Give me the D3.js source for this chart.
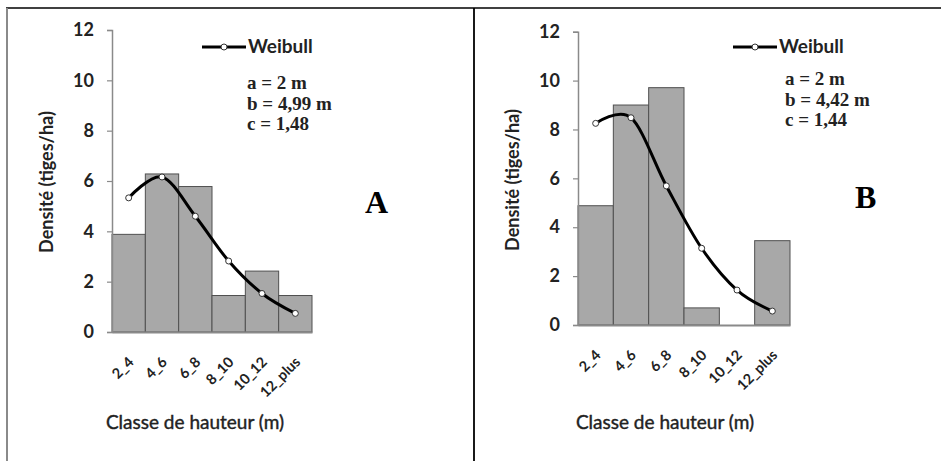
<!DOCTYPE html>
<html>
<head>
<meta charset="utf-8">
<script src="https://cdn.jsdelivr.net/npm/d3@7/dist/d3.min.js"></script>
<style>
  html, body { margin: 0; padding: 0; background: #fff; }
  svg { display: block; }
</style>
</head>
<body>
<div id="chart"></div>
<script>
// Données
const classes = ['2_4', '4_6', '6_8', '8_10', '10_12', '12_plus'];
const densiteA = [3.88, 6.28, 5.78, 1.45, 2.42, 1.45];
const weibullA = [5.33, 6.16, 4.6, 2.82, 1.53, 0.74];
const densiteB = [4.88, 9.0, 9.71, 0.7, 0, 3.45];
const weibullB = [8.25, 8.48, 5.69, 3.14, 1.43, 0.57];
const yTicks = [0, 2, 4, 6, 8, 10, 12];
const paramsA = ['a = 2 m', 'b = 4,99 m', 'c = 1,48'];
const paramsB = ['a = 2 m', 'b = 4,42 m', 'c = 1,44'];

const W = 941, H = 461;
const SANS = 'Lato, "Open Sans", sans-serif';
const SERIF = '"Liberation Serif", "Times New Roman", serif';
const INK = '#222';

const svg = d3.select('#chart').append('svg')
  .attr('width', W).attr('height', H)
  .attr('viewBox', `0 0 ${W} ${H}`);

// Cadre
svg.append('line').attr('x1', 6).attr('x2', W).attr('y1', 8).attr('y2', 8)
  .attr('stroke', '#000').attr('stroke-width', 1.6);
svg.append('line').attr('x1', 7).attr('x2', 7).attr('y1', 8).attr('y2', H)
  .attr('stroke', '#8a8a8a').attr('stroke-width', 2);
svg.append('line').attr('x1', 474).attr('x2', 474).attr('y1', 8).attr('y2', H)
  .attr('stroke', '#000').attr('stroke-width', 1.8);

function panel(o) {
  const g = svg.append('g');
  const x = d3.scaleBand().domain(classes).range([o.x0, o.x1]).padding(0);
  const y = d3.scaleLinear().domain([0, 12]).range([o.y0, o.yTop]);

  // barres
  g.selectAll('rect.bar').data(o.dens).join('rect')
    .attr('class', 'bar')
    .attr('x', (d, i) => x(classes[i]))
    .attr('y', d => y(d))
    .attr('width', x.bandwidth())
    .attr('height', d => y(0) - y(d))
    .attr('fill', '#a8a8a8')
    .attr('stroke', '#505050')
    .attr('stroke-width', d => d > 0 ? 1 : 0);

  // axe Y
  const ay = g.append('g').attr('transform', `translate(${o.x0},0)`)
    .call(d3.axisLeft(y).tickValues(yTicks).tickSize(5).tickPadding(13));
  ay.select('.domain').attr('stroke', '#8a8a8a').attr('stroke-width', 1.5);
  ay.selectAll('.tick line').attr('stroke', '#8a8a8a').attr('stroke-width', 1.2);
  ay.selectAll('.tick text')
    .attr('font-family', SANS).attr('font-size', 18).attr('font-weight', 700)
    .attr('fill', INK);

  // axe X
  const ax = g.append('g').attr('transform', `translate(0,${o.y0})`)
    .call(d3.axisBottom(x).tickSize(0).tickSizeOuter(0));
  ax.select('.domain').attr('stroke', '#8a8a8a').attr('stroke-width', 1.8);
  ax.selectAll('.tick text')
    .attr('font-family', SANS).attr('font-size', 14.5).attr('font-weight', 700)
    .attr('fill', INK)
    .attr('text-anchor', 'end')
    .attr('dy', 0).attr('y', 0)
    .attr('transform', 'translate(6,31) rotate(-45)');

  // courbe Weibull
  const pts = o.weib.map((d, i) => [x(classes[i]) + x.bandwidth() / 2, y(d)]);
  g.append('path').datum(pts)
    .attr('d', d3.line().curve(d3.curveCardinal.tension(0)))
    .attr('fill', 'none').attr('stroke', '#000').attr('stroke-width', 3);
  g.selectAll('circle.pt').data(pts).join('circle')
    .attr('class', 'pt')
    .attr('cx', d => d[0]).attr('cy', d => d[1]).attr('r', 3)
    .attr('fill', '#fff').attr('stroke', '#333').attr('stroke-width', 1);

  // titres d'axes
  g.append('text')
    .attr('transform', `translate(${o.yTitleX},${o.yTitleY}) rotate(-90)`)
    .attr('text-anchor', 'middle').attr('dy', '0.35em')
    .attr('font-family', SANS).attr('font-size', 18).attr('font-weight', 700)
    .attr('fill', INK).text('Densité (tiges/ha)');
  g.append('text')
    .attr('x', o.xTitleX).attr('y', 429)
    .attr('text-anchor', 'middle')
    .attr('font-family', SANS).attr('font-size', 19).attr('font-weight', 400)
    .attr('stroke', INK).attr('stroke-width', 0.4)
    .attr('fill', INK).text('Classe de hauteur (m)');

  // légende
  g.append('line').attr('x1', o.legX).attr('x2', o.legX + 44)
    .attr('y1', 47).attr('y2', 47)
    .attr('stroke', '#000').attr('stroke-width', 3);
  g.append('circle').attr('cx', o.legX + 22).attr('cy', 47).attr('r', 3)
    .attr('fill', '#fff').attr('stroke', '#333').attr('stroke-width', 1);
  g.append('text').attr('x', o.legX + 46).attr('y', 53)
    .attr('font-family', SANS).attr('font-size', 19).attr('font-weight', 700)
    .attr('fill', INK).text('Weibull');

  // paramètres
  g.selectAll('text.par').data(o.params).join('text')
    .attr('class', 'par')
    .attr('x', o.parX).attr('y', (d, i) => o.parY + i * 20.5)
    .attr('font-family', SERIF).attr('font-size', 19).attr('font-weight', 700)
    .attr('fill', INK).text(d => d);

  // lettre du panneau
  g.append('text').attr('x', o.letX).attr('y', o.letY)
    .attr('font-family', SERIF).attr('font-size', 32).attr('font-weight', 700)
    .attr('fill', '#000').text(o.letter);
}

panel({
  dens: densiteA, weib: weibullA, params: paramsA, letter: 'A',
  x0: 112, x1: 312, y0: 332, yTop: 30,
  yTitleX: 47, yTitleY: 182, xTitleX: 195,
  legX: 202, parX: 247, parY: 89, letX: 365, letY: 213
});

panel({
  dens: densiteB, weib: weibullB, params: paramsB, letter: 'B',
  x0: 578, x1: 790, y0: 325, yTop: 31.7,
  yTitleX: 513, yTitleY: 180, xTitleX: 665,
  legX: 733, parX: 785, parY: 85, letX: 855, letY: 208
});
</script>
</body>
</html>
